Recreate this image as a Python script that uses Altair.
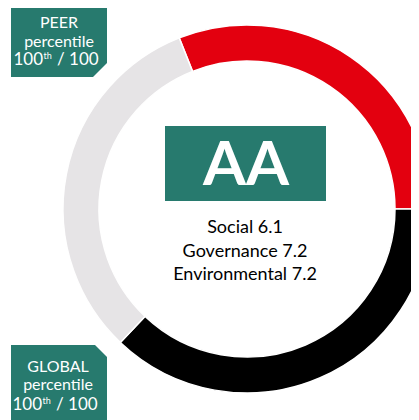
import math
import altair as alt
import pandas as pd

# ---- data ----
segments = ["peer", "global", "rest"]
angles_deg = [111.6, 133.5, 114.9]
seg_colors = ["#e3000f", "#000000", "#e6e4e6"]
seg_order = [0, 1, 2]
start_deg = -21.6

rating = "AA"
score_lines = ["Social 6.1", "Governance 7.2", "Environmental 7.2"]
peer_lines = ["PEER", "percentile"]
global_lines = ["GLOBAL", "percentile"]
pct_main = "100"
pct_sup = "th"
pct_tail = "/ 100"

TEAL = "#277a6e"
FONT = "Lato"

df = pd.DataFrame({"seg": segments, "angle": angles_deg, "ord": seg_order})
one = pd.DataFrame({"k": [0]})

start = math.radians(start_deg)

donut = alt.Chart(df).mark_arc(radius=184, radius2=148, stroke="white", strokeWidth=1.5).encode(
    theta=alt.Theta("angle:Q", stack=True, scale=alt.Scale(range=[start, start + 2 * math.pi])),
    color=alt.Color("seg:N", scale=alt.Scale(domain=segments, range=seg_colors), legend=None),
    order=alt.Order("ord:Q"),
    x=alt.value(239),
    y=alt.value(201),
)

box = alt.Chart(one).mark_rect(color=TEAL).encode(
    x=alt.value(157), x2=alt.value(318), y=alt.value(118), y2=alt.value(193)
)
aa = alt.Chart(one).mark_text(text=rating, font=FONT, fontWeight="bold", fontSize=62,
                              color="white", align="center", baseline="alphabetic").encode(
    x=alt.value(238), y=alt.value(177)
)

layers = [donut, box, aa]
for i, (line, yy) in enumerate(zip(score_lines, [225, 249, 272])):
    layers.append(alt.Chart(one).mark_text(text=line, font=FONT, fontSize=18, color="#000000",
                                           align="center", baseline="alphabetic").encode(
        x=alt.value(237), y=alt.value(yy)))

# badges
peer_path = "M-1,-0.771 L1,-0.771 L1,0.479 L0.708,0.771 L-1,0.771 Z"
global_path = "M-1,-0.854 L0.75,-0.854 L1,-0.604 L1,0.854 L-1,0.854 Z"
layers.append(alt.Chart(one).mark_point(shape=peer_path, size=9216, filled=True, opacity=1,
                                        color=TEAL, strokeWidth=0).encode(
    x=alt.value(51), y=alt.value(32)))
layers.append(alt.Chart(one).mark_point(shape=global_path, size=9216, filled=True, opacity=1,
                                        color=TEAL, strokeWidth=0).encode(
    x=alt.value(51), y=alt.value(378)))


def badge_text(lines, cx, ys, pct_y):
    out = []
    for line, yy in zip(lines, ys):
        out.append(alt.Chart(one).mark_text(text=line, font=FONT, fontSize=16, color="white",
                                            align="center", baseline="alphabetic").encode(
            x=alt.value(cx), y=alt.value(yy)))
    out.append(alt.Chart(one).mark_text(text=pct_main, font=FONT, fontSize=17, color="white",
                                        align="right", baseline="alphabetic").encode(
        x=alt.value(cx - 16), y=alt.value(pct_y)))
    out.append(alt.Chart(one).mark_text(text=pct_sup, font=FONT, fontSize=9, color="white",
                                        align="left", baseline="alphabetic").encode(
        x=alt.value(cx - 15.5), y=alt.value(pct_y - 6)))
    out.append(alt.Chart(one).mark_text(text=pct_tail, font=FONT, fontSize=17, color="white",
                                        align="left", baseline="alphabetic").encode(
        x=alt.value(cx - 2), y=alt.value(pct_y)))
    return out


layers += badge_text(peer_lines, 51, [20, 39], 57)
layers += badge_text(global_lines, 50, [364, 382], 402)

chart = alt.layer(*layers).properties(
    width=403, height=412, padding=0, autosize=alt.AutoSizeParams(type="none")
).configure_view(stroke=None)

chart.save("out.html", embed_options={"renderer": "svg", "actions": False})
